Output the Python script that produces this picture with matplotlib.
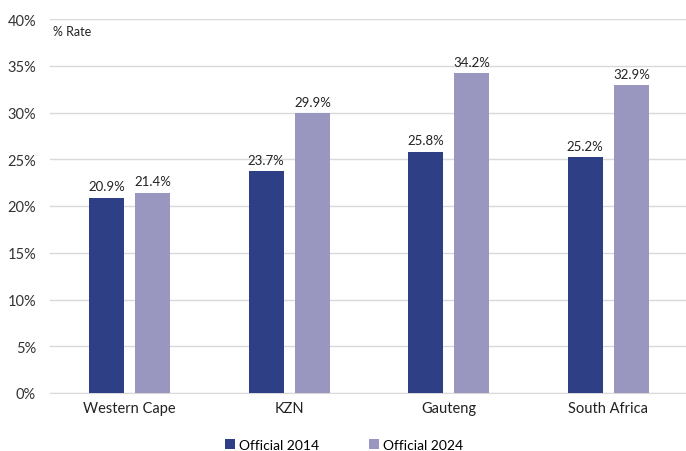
import matplotlib
matplotlib.use("Agg")
import matplotlib.pyplot as plt
import numpy as np

plt.rcParams['font.family'] = ['Lato', 'DejaVu Sans']

categories = ["Western Cape", "KZN", "Gauteng", "South Africa"]
official_2014 = [20.9, 23.7, 25.8, 25.2]
official_2024 = [21.4, 29.9, 34.2, 32.9]
yticks = [0, 5, 10, 15, 20, 25, 30, 35, 40]

c1 = "#2F3F86"
c2 = "#9996C0"

fig = plt.figure(figsize=(6.86, 4.52), dpi=100)
ax = fig.add_axes([50/686, 1-394/452, 638/686, 374/452])

x = np.arange(len(categories))
w = 0.22
off = 0.145
b1 = ax.bar(x - off, official_2014, w, color=c1, label="Official 2014", zorder=3)
b2 = ax.bar(x + off, official_2024, w, color=c2, label="Official 2024", zorder=3)

for bars, vals in ((b1, official_2014), (b2, official_2024)):
    for r, v in zip(bars, vals):
        ax.text(r.get_x() + r.get_width()/2, v + 0.6, f"{v:.1f}%", ha="center", va="bottom",
                fontsize=9.5, color="#222222")

ax.set_xlim(-0.5, len(categories) - 0.5)
ax.set_ylim(0, 40)
ax.set_yticks(yticks)
ax.set_yticklabels([f"{t}%" for t in yticks], fontsize=10.5, color="#333333")
ax.set_xticks(x)
ax.set_xticklabels(categories, fontsize=10.5, color="#222222")
ax.tick_params(axis="both", length=0, pad=6)
ax.tick_params(axis="y", pad=10)
ax.grid(axis="y", color="#D9D9D9", linewidth=1, zorder=0)
for s in ["top", "right", "left"]:
    ax.spines[s].set_visible(False)
ax.spines["bottom"].set_color("#D9D9D9")

ax.text(0.005, 0.985, "% Rate", transform=ax.transAxes, ha="left", va="top", fontsize=9, color="#222222")

fig.legend(handles=[b1, b2], loc="center", bbox_to_anchor=(344/686, 1-446/452), ncol=2,
           frameon=False, fontsize=10, handlelength=0.7, handleheight=0.7, handletextpad=0.3,
           columnspacing=3.6)

fig.savefig("out.png", dpi=100)
